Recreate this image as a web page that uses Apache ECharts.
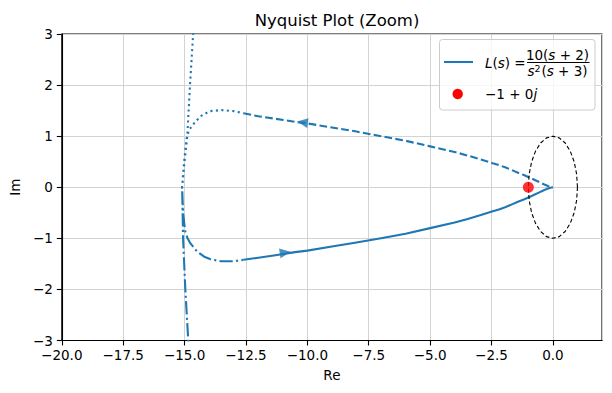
<!DOCTYPE html>
<html>
<head>
<meta charset="utf-8">
<script src="https://cdn.jsdelivr.net/npm/echarts@6/dist/echarts.min.js"></script>
<style>
html,body{margin:0;padding:0;background:#fff;}
#chart{width:612px;height:393px;}
</style>
</head>
<body>
<div id="chart"></div>
<script>
// ---- data ----
// primary (positive frequency) unscaled part, solid
const primaryRe = [-12.6, -12.0, -11.3, -10.5, -10.0, -9.0, -8.0, -7.0, -6.0, -5.0, -4.0, -3.47, -2.9, -2.45, -2.2, -1.92, -1.69, -1.4, -1.16, -0.93, -0.74, -0.55, -0.37, -0.2, -0.1, 0.0];
const primaryIm = [-1.42, -1.38, -1.33, -1.27, -1.24, -1.16, -1.08, -1.0, -0.91, -0.80, -0.69, -0.62, -0.54, -0.47, -0.435, -0.385, -0.34, -0.28, -0.235, -0.185, -0.143, -0.1, -0.059, -0.025, -0.009, 0.0];
// primary scaled part (large-magnitude arc + low-frequency part), dash-dot
const primaryScaledRe = [-14.5, -14.85, -14.97, -15.06, -15.1, -15.06, -14.98, -14.88, -14.76, -14.49, -14.2, -13.94, -13.5, -13.0, -12.6];
const primaryScaledIm = [-4.2, -3.0, -2.0, -1.0, 0.0, -0.5, -0.85, -1.0, -1.1, -1.26, -1.36, -1.41, -1.45, -1.45, -1.42];
// mirror (negative frequency) unscaled part, dashed
const mirrorRe = [-12.6, -12.0, -11.3, -10.5, -10.0, -9.0, -8.0, -7.0, -6.0, -5.0, -4.0, -3.47, -2.9, -2.45, -2.2, -1.92, -1.69, -1.4, -1.16, -0.93, -0.74, -0.55, -0.37, -0.2, -0.1, 0.0];
const mirrorIm = [1.45, 1.39, 1.34, 1.28, 1.25, 1.17, 1.09, 1.0, 0.91, 0.80, 0.69, 0.62, 0.54, 0.47, 0.435, 0.385, 0.34, 0.28, 0.235, 0.185, 0.143, 0.1, 0.059, 0.025, 0.009, 0.0];
// mirror scaled part, dotted
const mirrorScaledRe = [-14.3, -14.65, -14.78, -14.89, -15.0, -15.1, -15.02, -14.92, -14.82, -14.65, -14.35, -13.97, -13.5, -13.0, -12.6];
const mirrorScaledIm = [4.2, 3.0, 2.0, 1.0, 0.5, 0.0, 0.5, 0.95, 1.12, 1.23, 1.39, 1.49, 1.51, 1.49, 1.45];
// direction arrows
const arrowRe = [-10.9, -10.2];
const arrowIm = [-1.28, 1.27];
const arrowAngle = [-82, 82];
// unit circle (dashed black)
const circleRe = [1, 0.966, 0.866, 0.707, 0.5, 0.259, 0, -0.259, -0.5, -0.707, -0.866, -0.966, -1, -0.966, -0.866, -0.707, -0.5, -0.259, 0, 0.259, 0.5, 0.707, 0.866, 0.966, 1];
const circleIm = [0, 0.259, 0.5, 0.707, 0.866, 0.966, 1, 0.966, 0.866, 0.707, 0.5, 0.259, 0, -0.259, -0.5, -0.707, -0.866, -0.966, -1, -0.966, -0.866, -0.707, -0.5, -0.259, 0];
// critical point
const critRe = [-1];
const critIm = [0];
// axes
const xMin = -20, xMax = 2, xStep = 2.5;
const yMin = -3, yMax = 3, yStep = 1;

// ---- build ----
const zip = (a, b) => a.map((v, i) => [v, b[i]]);
const minus = s => String(s).replace('-', '\u2212');
const FONT = 'DejaVu Sans';
const BLUE = '#1f77b4';

const chart = echarts.init(document.getElementById('chart'), null, {renderer: 'svg'});

const lineSeries = (name, re, im, type, color, width) => ({
  name: name, type: 'line', data: zip(re, im), showSymbol: false, symbol: 'none',
  smooth: false, clip: true, silent: true, animation: false,
  lineStyle: {color: color, width: width, type: type, cap: 'butt', join: 'round'},
  z: 3
});

const option = {
  animation: false,
  backgroundColor: '#ffffff',
  title: {
    text: 'Nyquist Plot (Zoom)', left: 332, textAlign: 'center', top: 7,
    textStyle: {fontFamily: FONT, fontSize: 16.5, fontWeight: 'normal', color: '#000'}
  },
  grid: {left: 61, right: 10, top: 34, bottom: 52.5, show: true, borderColor: '#000', borderWidth: 1.1, backgroundColor: 'transparent'},
  xAxis: {
    type: 'value', min: xMin, max: xMax, interval: xStep,
    name: 'Re', nameLocation: 'middle', nameGap: 27,
    nameTextStyle: {fontFamily: FONT, fontSize: 13.5, color: '#000'},
    axisLine: {show: true, onZero: false, lineStyle: {color: '#000', width: 1.1}},
    axisTick: {show: true, inside: false, length: 5, lineStyle: {color: '#000', width: 1.1}},
    axisLabel: {
      fontFamily: FONT, fontSize: 13.5, color: '#000', margin: 7, showMaxLabel: false,
      formatter: v => (Math.abs((v - xMin) / xStep - Math.round((v - xMin) / xStep)) < 1e-6 ? minus(v.toFixed(1)) : '')
    },
    splitLine: {show: true, lineStyle: {color: '#d3d3d3', width: 1}}
  },
  yAxis: {
    type: 'value', min: yMin, max: yMax, interval: yStep,
    name: 'Im', nameLocation: 'middle', nameGap: 38,
    nameTextStyle: {fontFamily: FONT, fontSize: 13.5, color: '#000'},
    axisLine: {show: true, onZero: false, lineStyle: {color: '#000', width: 1.1}},
    axisTick: {show: true, inside: false, length: 5, lineStyle: {color: '#000', width: 1.1}},
    axisLabel: {fontFamily: FONT, fontSize: 13.5, color: '#000', margin: 9, formatter: v => minus(v)},
    splitLine: {show: true, lineStyle: {color: '#d3d3d3', width: 1}}
  },
  series: [
    lineSeries('L(s) = 10(s+2)/(s^2(s+3))', primaryRe, primaryIm, 'solid', BLUE, 2.1),
    lineSeries('L(s) scaled', primaryScaledRe, primaryScaledIm, [13.3, 3.3, 2.1, 3.3], BLUE, 2.1),
    lineSeries('L(s) mirror', mirrorRe, mirrorIm, [7.7, 3.3], BLUE, 2.1),
    lineSeries('L(s) mirror scaled', mirrorScaledRe, mirrorScaledIm, [2.1, 3.4], BLUE, 2.1),
    {
      name: 'arrows', type: 'scatter', silent: true, animation: false, z: 4,
      data: arrowRe.map((x, i) => ({value: [x, arrowIm[i]], symbolRotate: arrowAngle[i]})),
      symbol: 'triangle', symbolSize: [10, 11],
      itemStyle: {color: BLUE}
    },
    lineSeries('unit circle', circleRe, circleIm, [4, 2.5], '#000', 1.1),
    {
      name: '\u22121 + 0j', type: 'scatter', silent: true, animation: false, z: 5,
      data: zip(critRe, critIm), symbol: 'circle', symbolSize: 11,
      itemStyle: {color: '#ff0000'}
    }
  ],
  graphic: [
    {type: 'rect', z: 50, shape: {x: 439.5, y: 39.5, width: 155.5, height: 70.5, r: 3},
     style: {fill: 'rgba(255,255,255,0.8)', stroke: '#cccccc', lineWidth: 1}},
    {type: 'line', z: 51, shape: {x1: 444, y1: 62, x2: 473, y2: 62}, style: {stroke: BLUE, lineWidth: 2.1}},
    {type: 'text', z: 51, x: 485, y: 62.5,
     style: {text: '{i|L}({i|s}) =', fontFamily: FONT, fontSize: 13.5, fill: '#000', verticalAlign: 'middle', align: 'left',
       rich: {i: {fontFamily: FONT, fontSize: 13.5, fontStyle: 'italic', fill: '#000'}}}},
    {type: 'text', z: 51, x: 557.5, y: 54.5,
     style: {text: '10({i|s} + 2)', fontFamily: FONT, fontSize: 13.5, fill: '#000', verticalAlign: 'middle', align: 'center',
       rich: {i: {fontFamily: FONT, fontSize: 13.5, fontStyle: 'italic', fill: '#000'}}}},
    {type: 'line', z: 51, shape: {x1: 527, y1: 62.5, x2: 589.5, y2: 62.5}, style: {stroke: '#000', lineWidth: 1}},
    {type: 'text', z: 51, x: 557.5, y: 70.5,
     style: {text: '{i|s}{sup|2}({i|s} + 3)', fontFamily: FONT, fontSize: 13.5, fill: '#000', verticalAlign: 'middle', align: 'center',
       rich: {i: {fontFamily: FONT, fontSize: 13.5, fontStyle: 'italic', fill: '#000'},
              sup: {fontFamily: FONT, fontSize: 9.5, fill: '#000', verticalAlign: 'top', padding: [0, 1, 0, 0]}}}},
    {type: 'circle', z: 51, shape: {cx: 457.7, cy: 94, r: 5.2}, style: {fill: '#ff0000'}},
    {type: 'text', z: 51, x: 485, y: 94,
     style: {text: '\u22121 + 0{i|j}', fontFamily: FONT, fontSize: 13.5, fill: '#000', verticalAlign: 'middle', align: 'left',
       rich: {i: {fontFamily: FONT, fontSize: 13.5, fontStyle: 'italic', fill: '#000'}}}}
  ]
};
chart.setOption(option);
</script>
</body>
</html>
